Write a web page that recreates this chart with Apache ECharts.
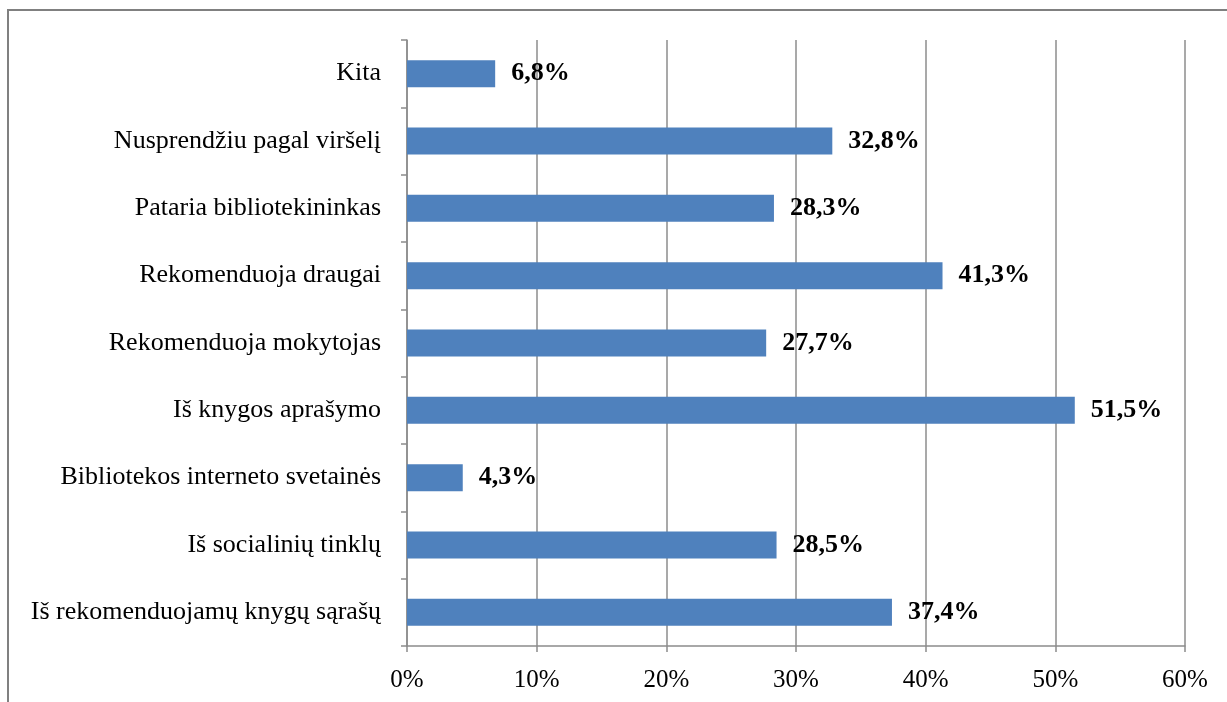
<!DOCTYPE html>
<html>
<head>
<meta charset="utf-8">
<script src="https://cdn.jsdelivr.net/npm/echarts@6/dist/echarts.min.js"></script>
<style>
  html, body { margin: 0; padding: 0; background: #fff; }
  #chart { width: 1227px; height: 702px; }
</style>
</head>
<body>
<div id="chart"></div>
<script>
// top to bottom
var categories = [
  'Kita',
  'Nusprendžiu pagal viršelį',
  'Pataria bibliotekininkas',
  'Rekomenduoja draugai',
  'Rekomenduoja mokytojas',
  'Iš knygos aprašymo',
  'Bibliotekos interneto svetainės',
  'Iš socialinių tinklų',
  'Iš rekomenduojamų knygų sąrašų'
];
var values = [6.8, 32.8, 28.3, 41.3, 27.7, 51.5, 4.3, 28.5, 37.4];
var xTicks = [0, 10, 20, 30, 40, 50, 60];

var chart = echarts.init(document.getElementById('chart'));
var font = '"Liberation Serif", "Times New Roman", serif';
var gray = '#8c8c8c';

var option = {
  animation: false,
  textStyle: { fontFamily: font },
  graphic: [{
    type: 'rect',
    shape: { x: 8, y: 10, width: 1260, height: 760 },
    style: { fill: 'none', stroke: '#808080', lineWidth: 2 },
    silent: true
  }],
  grid: { left: 407, right: 42, top: 40, bottom: 56 },
  xAxis: {
    type: 'value',
    min: xTicks[0],
    max: xTicks[xTicks.length - 1],
    interval: 10,
    axisLine: { show: true, lineStyle: { color: gray, width: 1.5 } },
    axisTick: { show: true, length: 6, lineStyle: { color: gray, width: 1.5 } },
    splitLine: { show: true, lineStyle: { color: gray, width: 1.5 } },
    axisLabel: {
      color: '#000', fontSize: 25, fontFamily: font, margin: 22,
      formatter: function (v) { return v + '%'; }
    }
  },
  yAxis: {
    type: 'category',
    inverse: true,
    data: categories,
    axisLine: { show: true, lineStyle: { color: gray, width: 1.5 } },
    axisTick: { show: true, length: 6, alignWithLabel: false, lineStyle: { color: gray, width: 1.5 } },
    axisLabel: { color: '#000', fontSize: 26, fontFamily: font, margin: 26 },
    splitLine: { show: false }
  },
  series: [{
    type: 'bar',
    data: values,
    barWidth: '40%',
    itemStyle: { color: '#4F81BD' },
    label: {
      show: true,
      position: 'right',
      distance: 16,
      color: '#000',
      fontSize: 26,
      fontWeight: 'bold',
      fontFamily: font,
      formatter: function (p) { return p.value.toFixed(1).replace('.', ',') + '%'; }
    }
  }]
};
chart.setOption(option);
</script>
</body>
</html>
